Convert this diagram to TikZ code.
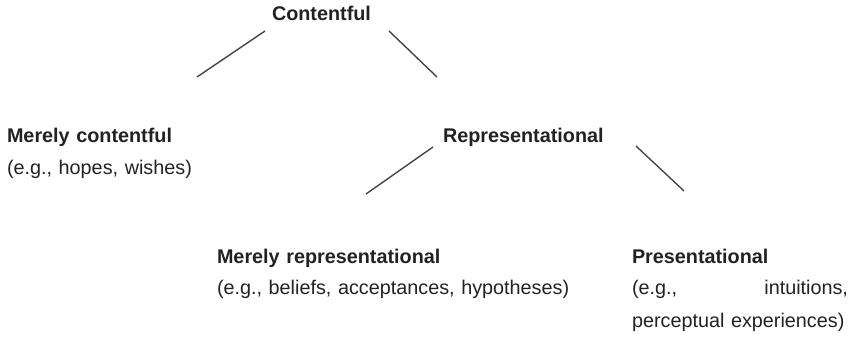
\documentclass[tikz,border=0pt]{standalone}
\usepackage{fontspec}
\setmainfont{Liberation Sans}
\definecolor{txt}{HTML}{222222}
\definecolor{ln}{HTML}{444444}
\begin{document}
\begin{tikzpicture}[x=1pt,y=-1pt,
  lbl/.style={anchor=base west,inner sep=0pt,outer sep=0pt,text=txt,align=left,
    font=\fontsize{19.8}{32}\selectfont},
  conn/.style={draw=ln,line width=1.4pt}]
\useasboundingbox (0,0) rectangle (857,339);
\node[lbl] (contentful) at (272,21) {\textbf{Contentful}};
\node[lbl,text width=200pt] (merely) at (7,143) {\textbf{Merely contentful}\\(e.g., hopes, wishes)};
\node[lbl] (repr) at (443,143) {\textbf{Representational}};
\node[lbl,text width=400pt] (mrepr) at (217,263) {\textbf{Merely representational}\\(e.g., beliefs, acceptances, hypotheses)};
\node[lbl,text width=216pt] (pres) at (632,263) {\textbf{Presentational}\\(e.g.,\hfill intuitions,\\perceptual experiences)};
\coordinate (c1) at (265,31); \coordinate (c2) at (197,77);
\coordinate (c3) at (389,31); \coordinate (c4) at (437,77);
\coordinate (r1) at (433,147); \coordinate (r2) at (366,194);
\coordinate (r3) at (636,146); \coordinate (r4) at (684,191);
\draw[conn] (c1) -- (c2);
\draw[conn] (c3) -- (c4);
\draw[conn] (r1) -- (r2);
\draw[conn] (r3) -- (r4);
\end{tikzpicture}
\end{document}
